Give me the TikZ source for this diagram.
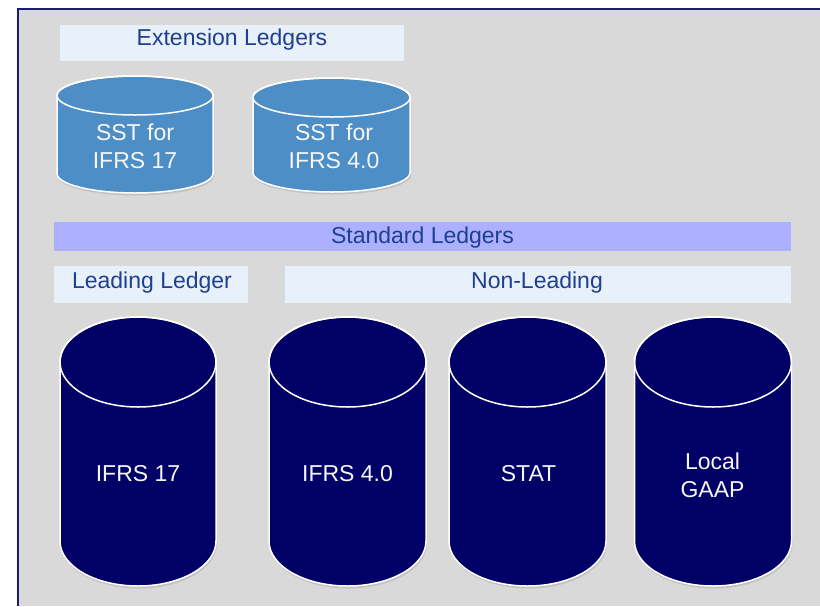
\documentclass[tikz,border=0pt]{standalone}
\usepackage{fontspec}
\setmainfont{Liberation Sans}
\usetikzlibrary{shadows}
\definecolor{navyfill}{HTML}{000066}
\definecolor{framenavy}{HTML}{1A1A80}
\definecolor{extblue}{HTML}{4D8EC6}
\definecolor{barfill}{HTML}{E8F1FA}
\definecolor{stdfill}{HTML}{ADAFFF}
\definecolor{labelblue}{HTML}{1F3F8F}
\definecolor{bggray}{HTML}{D9D9D9}
\newcommand{\ledgercyl}[6]{%
  \filldraw[cylbody, fill=#6] (#1+#4,#2+#5) -- (#1+#4,#3-#5)
    arc[start angle=0,end angle=180,x radius=#4,y radius=#5] -- (#1-#4,#2+#5)
    arc[start angle=180,end angle=360,x radius=#4,y radius=#5] -- cycle;
  \draw[draw=white, line width=1.5pt] (#1,#2+#5) ellipse[x radius=#4, y radius=#5];
}
\begin{document}
\begin{tikzpicture}[x=1pt,y=-1pt,
  cylbody/.style={draw=white, line width=1.5pt,
    drop shadow={shadow xshift=1pt,shadow yshift=-2.5pt,opacity=0.25}},
  cyltext/.style={text=white!94!gray, font=\fontsize{23}{28}\selectfont, align=center, inner sep=0pt},
  barbox/.style={fill=barfill, inner sep=0pt},
  bartext/.style={text=labelblue, font=\fontsize{23}{27}\selectfont, inner sep=0pt, anchor=base},
]
\useasboundingbox (0,0) rectangle (820,606);
\fill[white] (0,0) rectangle (820,606);
\fill[bggray] (18,9) rectangle (820,606);
\draw[framenavy, line width=2.5pt] (18,606) -- (18,9) -- (820,9);

% header bars
\node[barbox, minimum width=344pt, minimum height=36pt] (extbar) at (232,43) {};
\node[bartext] (exttext) at (232,45.7) {Extension Ledgers};
\node[barbox, fill=stdfill, minimum width=737pt, minimum height=29pt] (stdbar) at (422.5,236.5) {};
\node[bartext] (stdtext) at (422.5,243.3) {Standard Ledgers};
\node[barbox, minimum width=194pt, minimum height=37pt] (leadbar) at (151,284.5) {};
\node[bartext] (leadtext) at (152,288) {Leading Ledger};
\node[barbox, minimum width=506pt, minimum height=37pt] (nonleadbar) at (538,284.5) {};
\node[bartext] (nonleadtext) at (537,288) {Non-Leading};

% extension ledger cylinders
\ledgercyl{135}{76}{193}{78}{19.5}{extblue}
\node[cyltext] (sst17) at (135,146) {SST for\\IFRS 17};
\ledgercyl{331.5}{78}{192}{78.5}{19.5}{extblue}
\node[cyltext] (sst40) at (334,146) {SST for\\IFRS 4.0};

% standard ledger cylinders
\ledgercyl{138}{317}{586}{78}{45}{navyfill}
\node[cyltext] (ifrs17) at (138,474) {IFRS 17};
\ledgercyl{347.5}{317}{586}{78.5}{45}{navyfill}
\node[cyltext] (ifrs40) at (347.5,474) {IFRS 4.0};
\ledgercyl{527.5}{317}{586}{78.5}{45}{navyfill}
\node[cyltext] (stat) at (528.5,474) {STAT};
\ledgercyl{713}{317}{586}{78.5}{45}{navyfill}
\node[cyltext] (localgaap) at (712.5,475) {Local\\GAAP};
\end{tikzpicture}
\end{document}
